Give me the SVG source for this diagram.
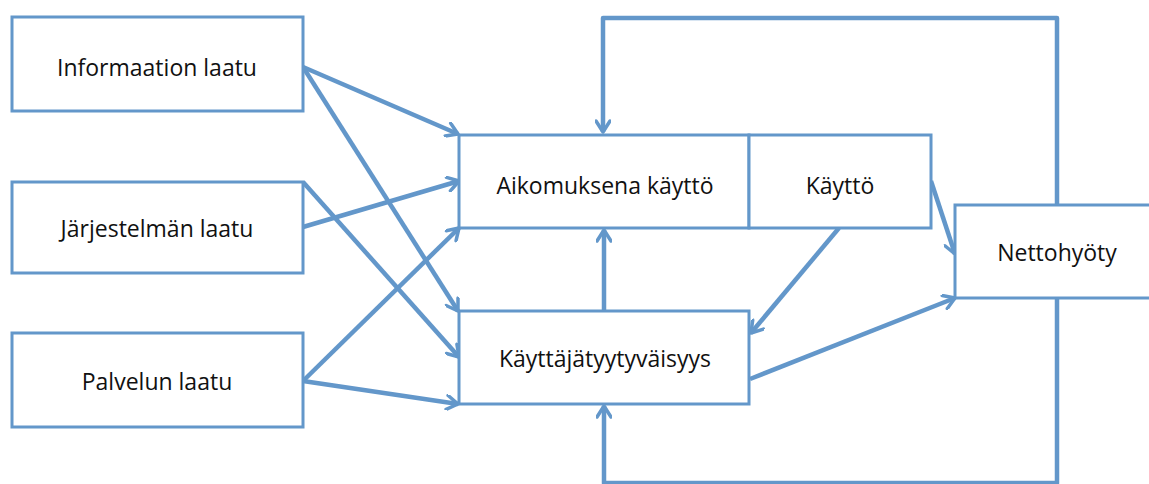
<svg xmlns="http://www.w3.org/2000/svg" width="1149" height="484" viewBox="0 0 1149 484">
  <style>
    .box { fill: #ffffff; stroke: #6397ca; stroke-width: 3; }
    .lbl { font-family: "Open Sans", "DejaVu Sans", sans-serif; font-size: 23px; fill: #111111; text-anchor: middle; }
    .con { fill: none; stroke: #6397ca; stroke-width: 4.5; stroke-linejoin: round; }
  </style>
  <defs>
    <marker id="arr" viewBox="0 0 16 16" refX="14" refY="8" markerWidth="16" markerHeight="16" markerUnits="userSpaceOnUse" orient="auto">
      <path d="M3,1 L14,8 L3,15" fill="none" stroke="#6397ca" stroke-width="3.5" stroke-linecap="round" stroke-linejoin="round"/>
    </marker>
  </defs>
  <rect width="1149" height="484" fill="#ffffff"/>

  <g id="connectors">
    <!-- feedback loops around the model -->
    <path class="con" d="M1057,205 L1057,18 L603,18 L603,132" marker-end="url(#arr)"/>
    <path class="con" d="M1057,298 L1057,483 L604,483 L604,406" marker-end="url(#arr)"/>
    <!-- satisfaction to intention -->
    <path class="con" d="M604,311 L604,230" marker-end="url(#arr)"/>
    <!-- quality dimensions -->
    <path class="con" d="M303,67 L458,134" marker-end="url(#arr)"/>
    <path class="con" d="M303,67 L458,311" marker-end="url(#arr)"/>
    <path class="con" d="M303,227 L459,181" marker-end="url(#arr)"/>
    <path class="con" d="M303,182 L459,357" marker-end="url(#arr)"/>
    <path class="con" d="M303,381 L459,228" marker-end="url(#arr)"/>
    <path class="con" d="M303,381 L458,404" marker-end="url(#arr)"/>
    <!-- use and satisfaction to net benefits -->
    <path class="con" d="M839,228 L751,333" marker-end="url(#arr)"/>
    <path class="con" d="M931,181 L955,254" marker-end="url(#arr)"/>
    <path class="con" d="M750,379 L955,298" marker-end="url(#arr)"/>
  </g>

  <g id="informaation-laatu">
    <rect class="box" x="12" y="17" width="291" height="94"/>
    <text class="lbl" x="157" y="76">Informaation laatu</text>
  </g>
  <g id="jarjestelman-laatu">
    <rect class="box" x="12" y="182" width="291" height="91"/>
    <text class="lbl" x="157" y="237">Järjestelmän laatu</text>
  </g>
  <g id="palvelun-laatu">
    <rect class="box" x="12" y="333" width="291" height="94"/>
    <text class="lbl" x="157" y="390">Palvelun laatu</text>
  </g>
  <g id="aikomuksena-kaytto">
    <rect class="box" x="459" y="135" width="290" height="93"/>
    <text class="lbl" x="605" y="194">Aikomuksena käyttö</text>
  </g>
  <g id="kaytto">
    <rect class="box" x="749" y="135" width="182" height="93"/>
    <text class="lbl" x="840" y="194">Käyttö</text>
  </g>
  <g id="kayttajatyytyvaisyys">
    <rect class="box" x="459" y="311" width="290" height="93"/>
    <text class="lbl" x="605" y="367">Käyttäjätyytyväisyys</text>
  </g>
  <g id="nettohyoty">
    <rect class="box" x="955" y="205" width="210" height="93"/>
    <text class="lbl" x="1057" y="261">Nettohyöty</text>
  </g>
</svg>
